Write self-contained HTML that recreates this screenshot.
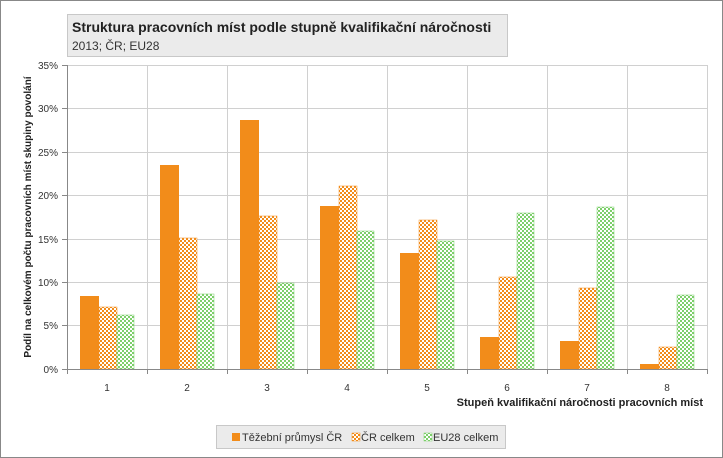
<!DOCTYPE html>
<html><head><meta charset="utf-8"><style>
body{margin:0;background:#fff;}
svg{display:block;font-family:"Liberation Sans","DejaVu Sans",sans-serif;}
</style></head><body>
<svg width="723" height="458" viewBox="0 0 723 458" xmlns="http://www.w3.org/2000/svg">
<defs>
<pattern id="po" width="4" height="4" patternUnits="userSpaceOnUse"><rect width="4" height="4" fill="#fff"/><rect width="2" height="2" fill="#f28c1a"/><rect x="2" y="2" width="2" height="2" fill="#f28c1a"/></pattern>
<pattern id="pg" width="4" height="4" patternUnits="userSpaceOnUse"><rect width="4" height="4" fill="#fff"/><rect width="2" height="2" fill="#7dcf6b"/><rect x="2" y="2" width="2" height="2" fill="#7dcf6b"/></pattern>
</defs>
<rect x="0.5" y="0.5" width="722" height="457" fill="#fff" stroke="#888"/>
<rect x="67.5" y="14.5" width="440" height="42" fill="#ebebeb" stroke="#c8c8c8"/>
<text x="72" y="32" font-size="14" font-weight="bold" fill="#222">Struktura pracovních míst podle stupně kvalifikační náročnosti</text>
<text x="72" y="50" font-size="12" fill="#333">2013; ČR; EU28</text>
<g stroke="#d0d0d0" stroke-width="1">
<line x1="67" y1="65.5" x2="707" y2="65.5"/><line x1="67" y1="108.5" x2="707" y2="108.5"/><line x1="67" y1="152.5" x2="707" y2="152.5"/><line x1="67" y1="195.5" x2="707" y2="195.5"/><line x1="67" y1="239.5" x2="707" y2="239.5"/><line x1="67" y1="282.5" x2="707" y2="282.5"/><line x1="67" y1="325.5" x2="707" y2="325.5"/>
<line x1="147.5" y1="65" x2="147.5" y2="369"/><line x1="227.5" y1="65" x2="227.5" y2="369"/><line x1="307.5" y1="65" x2="307.5" y2="369"/><line x1="387.5" y1="65" x2="387.5" y2="369"/><line x1="467.5" y1="65" x2="467.5" y2="369"/><line x1="547.5" y1="65" x2="547.5" y2="369"/><line x1="627.5" y1="65" x2="627.5" y2="369"/><line x1="707.5" y1="65" x2="707.5" y2="369"/>
</g>
<g>
<rect x="80" y="296" width="19" height="73" fill="#f28c1a"/><rect x="99" y="307" width="18" height="62" fill="url(#po)" stroke="#f28c1a" stroke-width="0.5"/><rect x="117" y="315" width="17" height="54" fill="url(#pg)" stroke="#7dcf6b" stroke-width="0.5"/>
<rect x="160" y="165" width="19" height="204" fill="#f28c1a"/><rect x="179" y="238" width="18" height="131" fill="url(#po)" stroke="#f28c1a" stroke-width="0.5"/><rect x="197" y="294" width="17" height="75" fill="url(#pg)" stroke="#7dcf6b" stroke-width="0.5"/>
<rect x="240" y="120" width="19" height="249" fill="#f28c1a"/><rect x="259" y="216" width="18" height="153" fill="url(#po)" stroke="#f28c1a" stroke-width="0.5"/><rect x="277" y="283" width="17" height="86" fill="url(#pg)" stroke="#7dcf6b" stroke-width="0.5"/>
<rect x="320" y="206" width="19" height="163" fill="#f28c1a"/><rect x="339" y="186" width="18" height="183" fill="url(#po)" stroke="#f28c1a" stroke-width="0.5"/><rect x="357" y="231" width="17" height="138" fill="url(#pg)" stroke="#7dcf6b" stroke-width="0.5"/>
<rect x="400" y="253" width="19" height="116" fill="#f28c1a"/><rect x="419" y="220" width="18" height="149" fill="url(#po)" stroke="#f28c1a" stroke-width="0.5"/><rect x="437" y="241" width="17" height="128" fill="url(#pg)" stroke="#7dcf6b" stroke-width="0.5"/>
<rect x="480" y="337" width="19" height="32" fill="#f28c1a"/><rect x="499" y="277" width="18" height="92" fill="url(#po)" stroke="#f28c1a" stroke-width="0.5"/><rect x="517" y="213" width="17" height="156" fill="url(#pg)" stroke="#7dcf6b" stroke-width="0.5"/>
<rect x="560" y="341" width="19" height="28" fill="#f28c1a"/><rect x="579" y="288" width="18" height="81" fill="url(#po)" stroke="#f28c1a" stroke-width="0.5"/><rect x="597" y="207" width="17" height="162" fill="url(#pg)" stroke="#7dcf6b" stroke-width="0.5"/>
<rect x="640" y="364" width="19" height="5" fill="#f28c1a"/><rect x="659" y="347" width="18" height="22" fill="url(#po)" stroke="#f28c1a" stroke-width="0.5"/><rect x="677" y="295" width="17" height="74" fill="url(#pg)" stroke="#7dcf6b" stroke-width="0.5"/>
</g>
<g stroke="#888">
<line x1="67.5" y1="65" x2="67.5" y2="374"/><line x1="62" y1="369.5" x2="707" y2="369.5"/>
<line x1="62" y1="65.5" x2="67" y2="65.5"/><line x1="62" y1="108.5" x2="67" y2="108.5"/><line x1="62" y1="152.5" x2="67" y2="152.5"/><line x1="62" y1="195.5" x2="67" y2="195.5"/><line x1="62" y1="239.5" x2="67" y2="239.5"/><line x1="62" y1="282.5" x2="67" y2="282.5"/><line x1="62" y1="325.5" x2="67" y2="325.5"/>
<line x1="147.5" y1="369" x2="147.5" y2="374"/><line x1="227.5" y1="369" x2="227.5" y2="374"/><line x1="307.5" y1="369" x2="307.5" y2="374"/><line x1="387.5" y1="369" x2="387.5" y2="374"/><line x1="467.5" y1="369" x2="467.5" y2="374"/><line x1="547.5" y1="369" x2="547.5" y2="374"/><line x1="627.5" y1="369" x2="627.5" y2="374"/><line x1="707.5" y1="369" x2="707.5" y2="374"/>
</g>
<g font-size="10" fill="#333" text-anchor="end">
<text x="58" y="69">35%</text><text x="58" y="112">30%</text><text x="58" y="156">25%</text><text x="58" y="199">20%</text><text x="58" y="243">15%</text><text x="58" y="286">10%</text><text x="58" y="329">5%</text><text x="58" y="373">0%</text>
</g>
<g font-size="10" fill="#333" text-anchor="middle">
<text x="107" y="391">1</text><text x="187" y="391">2</text><text x="267" y="391">3</text><text x="347" y="391">4</text><text x="427" y="391">5</text><text x="507" y="391">6</text><text x="587" y="391">7</text><text x="667" y="391">8</text>
</g>
<text x="703" y="406" font-size="11" font-weight="bold" fill="#222" text-anchor="end">Stupeň kvalifikační náročnosti pracovních míst</text>
<text transform="translate(31,217) rotate(-90)" font-size="10" font-weight="bold" fill="#222" text-anchor="middle">Podíl na celkovém počtu pracovních míst skupiny povolání</text>
<rect x="216.5" y="425.5" width="289" height="23" fill="#ebebeb" stroke="#c8c8c8"/>
<rect x="232" y="433" width="8" height="8" fill="#f28c1a"/>
<text x="242" y="441" font-size="11" fill="#333">Těžební průmysl ČR</text>
<rect x="352" y="433" width="8" height="8" fill="url(#po)" stroke="#f28c1a" stroke-width="0.5"/>
<text x="361" y="441" font-size="11" fill="#333">ČR celkem</text>
<rect x="424" y="433" width="8" height="8" fill="url(#pg)" stroke="#7dcf6b" stroke-width="0.5"/>
<text x="433" y="441" font-size="11" fill="#333">EU28 celkem</text>
</svg>
</body></html>
